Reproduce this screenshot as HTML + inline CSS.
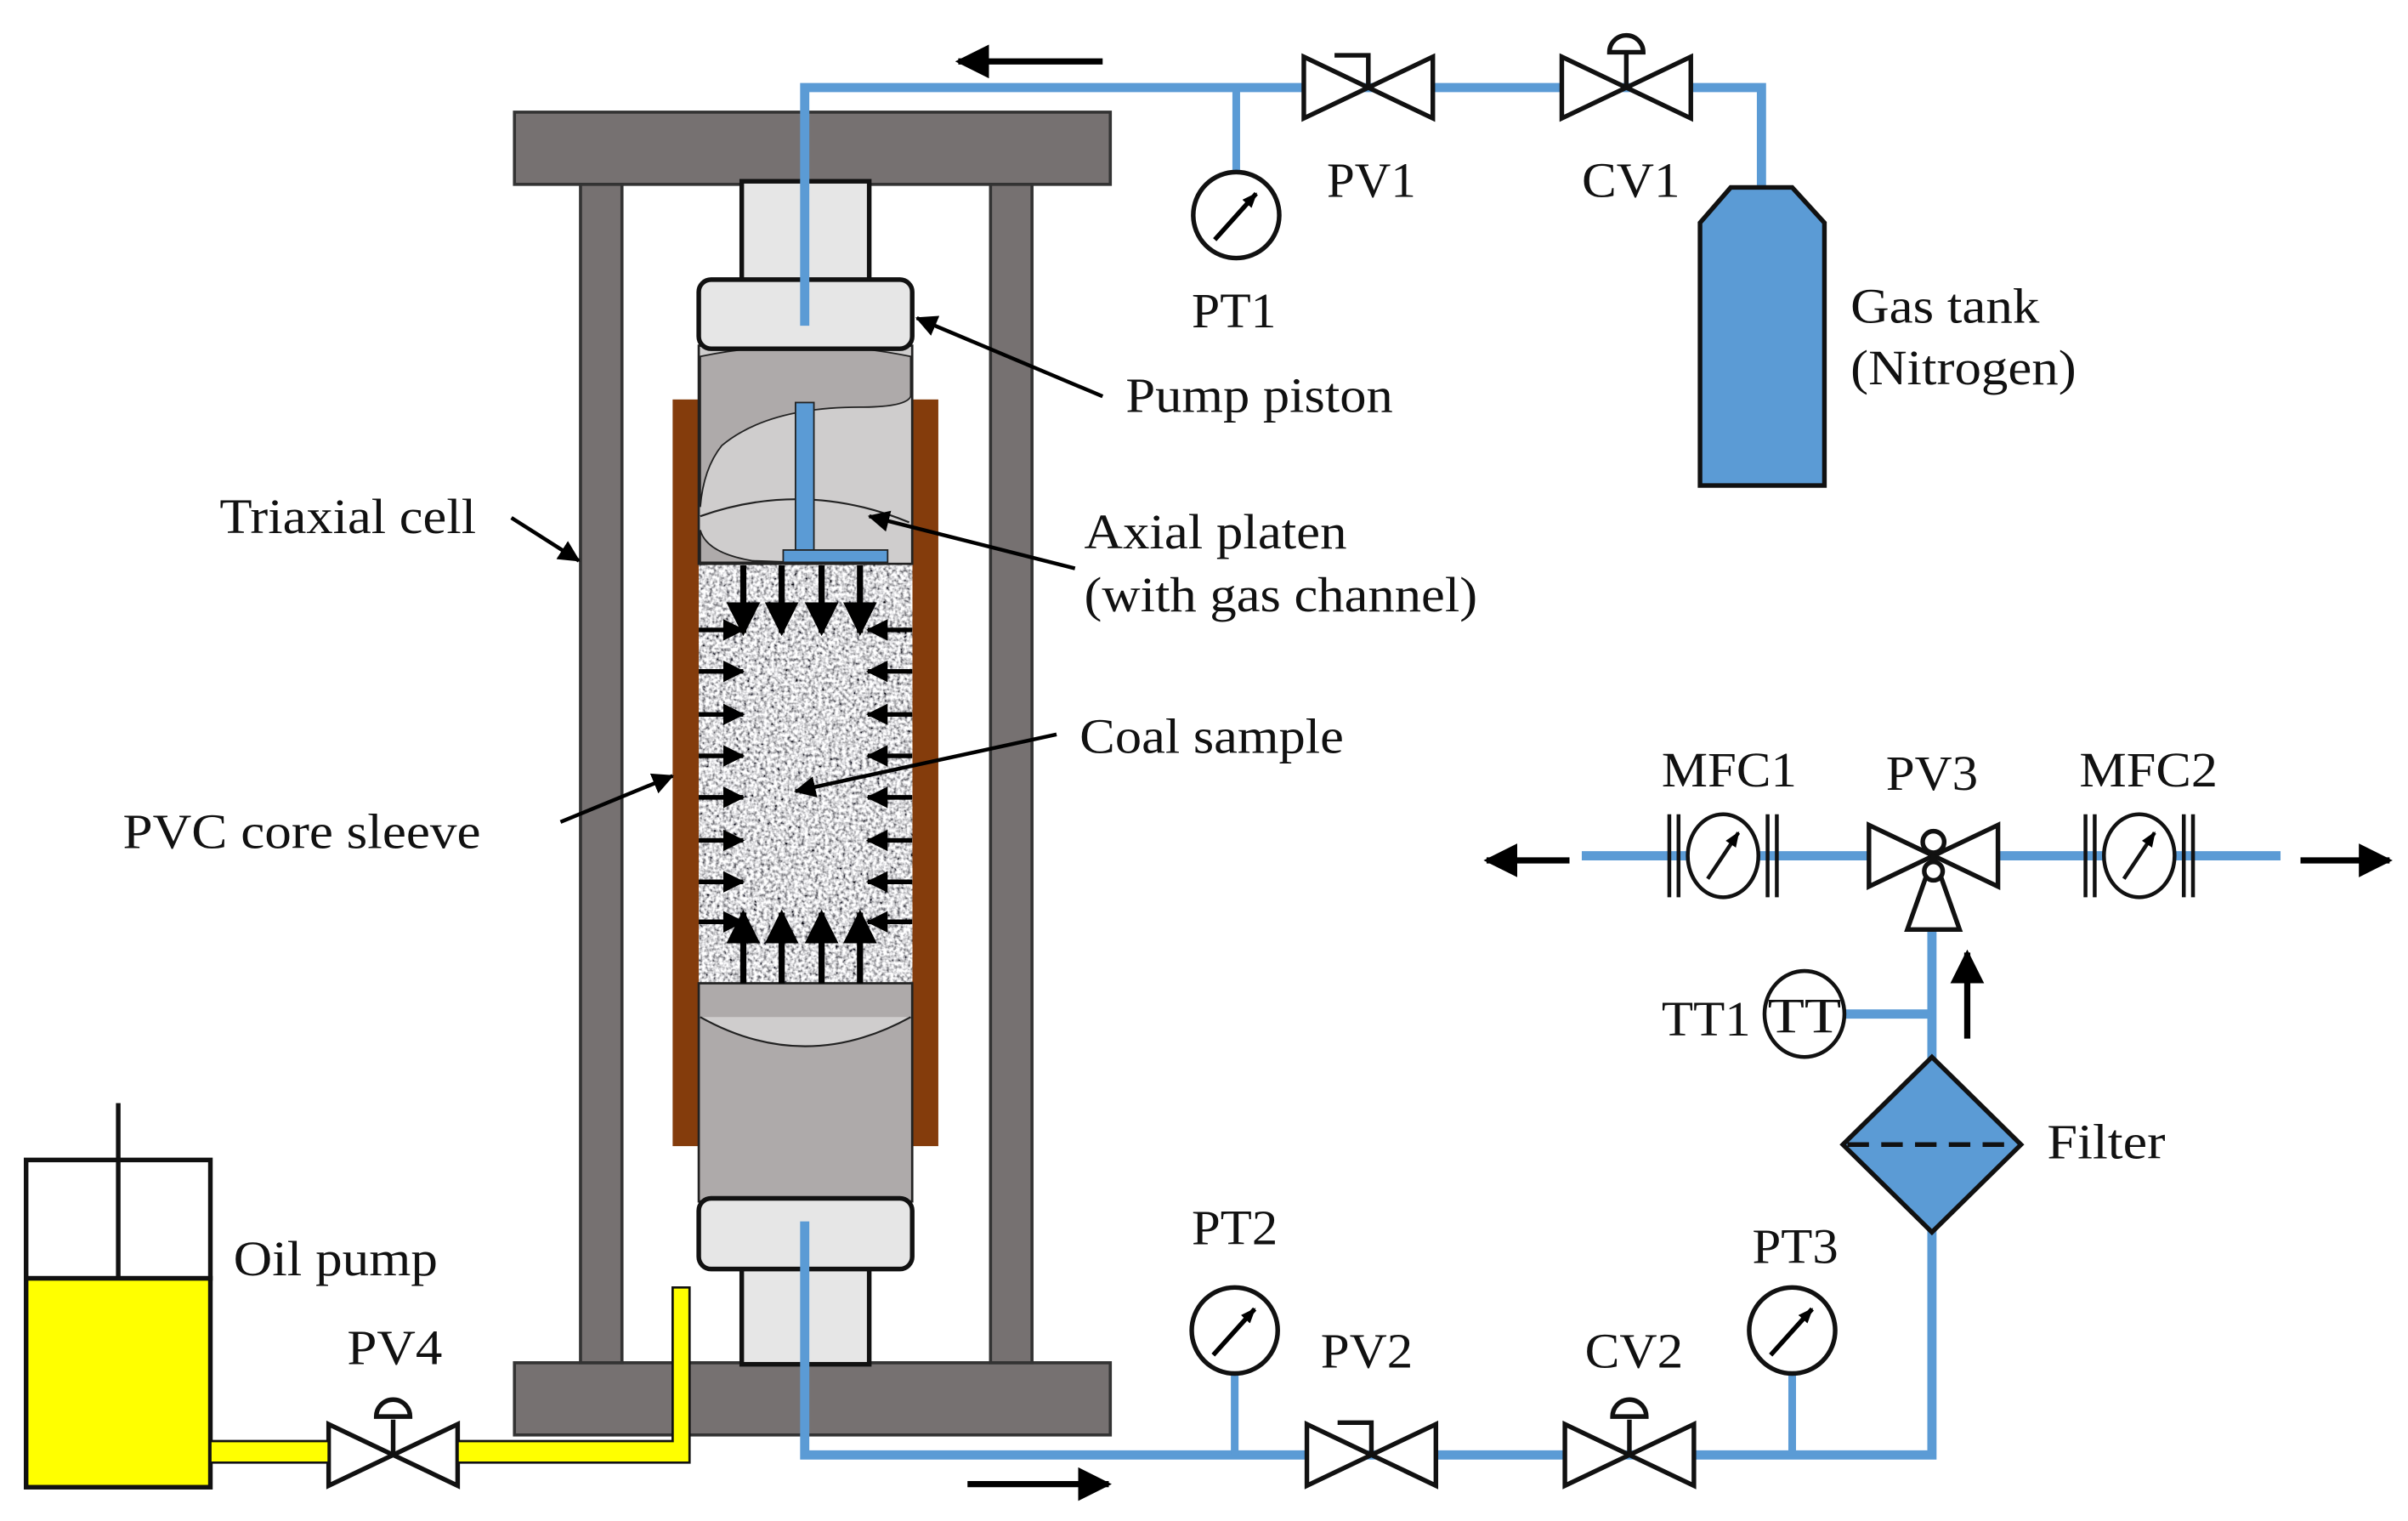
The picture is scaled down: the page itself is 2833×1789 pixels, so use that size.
<!DOCTYPE html>
<html><head><style>html,body{margin:0;padding:0;background:#fff}svg{display:block}text{font-family:"Liberation Serif",serif;font-size:32px;fill:#111}</style></head>
<body>
<svg width="2833" height="1789" viewBox="0 0 1568 990" preserveAspectRatio="none" xmlns="http://www.w3.org/2000/svg">
<defs>
<filter id="sp" x="0" y="0" width="1" height="1"><feTurbulence type="fractalNoise" baseFrequency="0.45" numOctaves="2" seed="3"/><feColorMatrix type="matrix" values="2.2 0 0 0 -0.4  2.2 0 0 0 -0.4  2.2 0 0 0 -0.38  0 0 0 0 1"/></filter>
<marker id="ah" markerWidth="10" markerHeight="8" refX="9" refY="4" orient="auto" markerUnits="userSpaceOnUse" viewBox="0 0 10 8"><path d="M0,0L10,4L0,8z" fill="#000"/></marker>
<marker id="bh" markerWidth="22" markerHeight="22" refX="20" refY="11" orient="auto" markerUnits="userSpaceOnUse" viewBox="0 0 22 22"><path d="M0,0L22,11L0,22z" fill="#000"/></marker>
<marker id="sh" markerWidth="14" markerHeight="14" refX="13" refY="7" orient="auto" markerUnits="userSpaceOnUse" viewBox="0 0 14 14"><path d="M0,0L14,7L0,14z" fill="#000"/></marker>
</defs>
<rect x="335" y="73" width="388" height="47" fill="#767171" stroke="#333" stroke-width="2"/>
<rect x="335" y="887" width="388" height="47" fill="#767171" stroke="#333" stroke-width="2"/>
<rect x="378" y="120" width="27" height="767" fill="#767171" stroke="#333" stroke-width="2"/>
<rect x="645" y="120" width="27" height="767" fill="#767171" stroke="#333" stroke-width="2"/>
<rect x="483" y="118" width="83" height="66" fill="#e6e6e6" stroke="#111" stroke-width="3"/>
<rect x="483" y="824" width="83" height="64" fill="#e6e6e6" stroke="#111" stroke-width="3"/>
<rect x="438" y="260" width="17" height="486" fill="#843c0c"/>
<rect x="594" y="260" width="17" height="486" fill="#843c0c"/>
<rect x="455" y="366" width="139" height="275" filter="url(#sp)"/>
<rect x="455" y="225" width="139" height="142" fill="#cfcdcd" stroke="#222" stroke-width="1.5"/>
<path d="M456,232 Q524,218 593,232 L593,258 Q590,265 560,265 Q500,265 470,290 Q458,305 456,330 Z" fill="#aeaaaa" stroke="#222" stroke-width="1"/>
<path d="M456,345 Q460,360 490,365 L520,366 L456,366 Z" fill="#aeaaaa" stroke="#222" stroke-width="1"/>
<path d="M456,336 Q524,312 592,340" fill="none" stroke="#222" stroke-width="1.2"/>
<rect x="455" y="182" width="139" height="45" rx="8" fill="#e6e6e6" stroke="#111" stroke-width="3"/>
<rect x="455" y="640" width="139" height="142" fill="#aeaaaa" stroke="#222" stroke-width="1.5"/>
<path d="M456,662 Q524,700 593,662" fill="#cfcdcd" stroke="#222" stroke-width="1.2"/>
<rect x="455" y="780" width="139" height="46" rx="8" fill="#e6e6e6" stroke="#111" stroke-width="3"/>
<rect x="518" y="262" width="12" height="98" fill="#5b9bd5" stroke="#222" stroke-width="1"/>
<rect x="510" y="358" width="68" height="8" fill="#5b9bd5" stroke="#222" stroke-width="1"/>
<g stroke="#000" stroke-width="4">
<line x1="484" y1="368" x2="484" y2="412" marker-end="url(#bh)"/><line x1="509" y1="368" x2="509" y2="412" marker-end="url(#bh)"/><line x1="535" y1="368" x2="535" y2="412" marker-end="url(#bh)"/><line x1="560" y1="368" x2="560" y2="412" marker-end="url(#bh)"/>
<line x1="484" y1="640" x2="484" y2="594" marker-end="url(#bh)"/><line x1="509" y1="640" x2="509" y2="594" marker-end="url(#bh)"/><line x1="535" y1="640" x2="535" y2="594" marker-end="url(#bh)"/><line x1="560" y1="640" x2="560" y2="594" marker-end="url(#bh)"/>
</g>
<g stroke="#000" stroke-width="3">
<line x1="455" y1="410" x2="484" y2="410" marker-end="url(#sh)"/><line x1="455" y1="437" x2="484" y2="437" marker-end="url(#sh)"/><line x1="455" y1="465" x2="484" y2="465" marker-end="url(#sh)"/><line x1="455" y1="492" x2="484" y2="492" marker-end="url(#sh)"/><line x1="455" y1="519" x2="484" y2="519" marker-end="url(#sh)"/><line x1="455" y1="547" x2="484" y2="547" marker-end="url(#sh)"/><line x1="455" y1="574" x2="484" y2="574" marker-end="url(#sh)"/><line x1="455" y1="600" x2="484" y2="600" marker-end="url(#sh)"/>
<line x1="594" y1="410" x2="565" y2="410" marker-end="url(#sh)"/><line x1="594" y1="437" x2="565" y2="437" marker-end="url(#sh)"/><line x1="594" y1="465" x2="565" y2="465" marker-end="url(#sh)"/><line x1="594" y1="492" x2="565" y2="492" marker-end="url(#sh)"/><line x1="594" y1="519" x2="565" y2="519" marker-end="url(#sh)"/><line x1="594" y1="547" x2="565" y2="547" marker-end="url(#sh)"/><line x1="594" y1="574" x2="565" y2="574" marker-end="url(#sh)"/><line x1="594" y1="600" x2="565" y2="600" marker-end="url(#sh)"/>
</g>
<g fill="none" stroke="#5b9bd5" stroke-width="6">
<polyline points="524,212 524,57 1147,57 1147,122"/>
<polyline points="524,795 524,947 1258,947 1258,800"/>
<polyline points="1258,690 1258,605"/>
<line x1="1030" y1="557" x2="1485" y2="557"/>
<line x1="1200" y1="660" x2="1258" y2="660"/>
</g>
<path d="M1127,122 L1167,122 L1188,145 L1188,316 L1107,316 L1107,145 Z" fill="#5b9bd5" stroke="#111" stroke-width="3"/>
<g fill="#fff" stroke="#111" stroke-width="3">
<path d="M849,37 L891,57 L849,77 Z M933,37 L891,57 L933,77 Z"/>
<path d="M1017,37 L1059,57 L1017,77 Z M1101,37 L1059,57 L1101,77 Z"/>
<path d="M851,927 L893,947 L851,967 Z M935,927 L893,947 L935,967 Z"/>
<path d="M1019,927 L1061,947 L1019,967 Z M1103,927 L1061,947 L1103,967 Z"/>
<path d="M214,927 L256,947 L214,967 Z M298,927 L256,947 L298,967 Z"/>
<path d="M1217,537 L1259,557 L1217,577 Z M1301,537 L1259,557 L1301,577 Z"/>
<path d="M1259,557 L1276,605 L1242,605 Z"/>
<circle cx="1259" cy="548" r="7"/>
<circle cx="1259" cy="567" r="6"/>
</g>
<g fill="none" stroke="#111" stroke-width="3">
<polyline points="891,57 891,36 869,36"/><polyline points="893,947 893,926 871,926"/>
<line x1="1059" y1="57" x2="1059" y2="34"/><line x1="1061" y1="947" x2="1061" y2="924"/><line x1="256" y1="947" x2="256" y2="924"/>
</g>
<g fill="#fff" stroke="#111" stroke-width="3">
<path d="M1048,34 A11,11 0 0 1 1070,34 Z"/>
<path d="M1050,922 A11,11 0 0 1 1072,922 Z"/>
<path d="M245,922 A11,11 0 0 1 267,922 Z"/>
</g>
<g stroke="#111" stroke-width="3" fill="#fff">
<line x1="805" y1="57" x2="805" y2="112" stroke="#5b9bd5" stroke-width="5"/>
<circle cx="805" cy="140" r="28"/>
<line x1="804" y1="947" x2="804" y2="894" stroke="#5b9bd5" stroke-width="5"/>
<circle cx="804" cy="866" r="28"/>
<line x1="1167" y1="947" x2="1167" y2="894" stroke="#5b9bd5" stroke-width="5"/>
<circle cx="1167" cy="866" r="28"/>
</g>
<g stroke="#000" stroke-width="3">
<line x1="791" y1="156" x2="818" y2="126" marker-end="url(#ah)"/>
<line x1="790" y1="882" x2="817" y2="852" marker-end="url(#ah)"/>
<line x1="1153" y1="882" x2="1180" y2="852" marker-end="url(#ah)"/>
</g>
<g fill="#fff" stroke="#111" stroke-width="2.5">
<ellipse cx="1122" cy="557" rx="23" ry="27"/><ellipse cx="1393" cy="557" rx="23" ry="27"/>
</g>
<g stroke="#111" stroke-width="2.5">
<line x1="1087" y1="530" x2="1087" y2="584"/><line x1="1093" y1="530" x2="1093" y2="584"/><line x1="1151" y1="530" x2="1151" y2="584"/><line x1="1157" y1="530" x2="1157" y2="584"/>
<line x1="1358" y1="530" x2="1358" y2="584"/><line x1="1364" y1="530" x2="1364" y2="584"/><line x1="1422" y1="530" x2="1422" y2="584"/><line x1="1428" y1="530" x2="1428" y2="584"/>
<line x1="1112" y1="572" x2="1132" y2="542" marker-end="url(#ah)"/>
<line x1="1383" y1="572" x2="1403" y2="542" marker-end="url(#ah)"/>
</g>
<ellipse cx="1175" cy="660" rx="26" ry="28" fill="#fff" stroke="#111" stroke-width="2.5"/>
<text x="1151" y="672" textLength="48" lengthAdjust="spacingAndGlyphs">TT</text>
<path d="M1258,688 L1316,745 L1258,802 L1200,745 Z" fill="#5b9bd5" stroke="#111" stroke-width="3"/>
<line x1="1203" y1="745" x2="1313" y2="745" stroke="#111" stroke-width="3" stroke-dasharray="14,8"/>
<g stroke="#000" stroke-width="4">
<line x1="718" y1="40" x2="624" y2="40" marker-end="url(#bh)"/>
<line x1="630" y1="966" x2="722" y2="966" marker-end="url(#bh)"/>
<line x1="1022" y1="560" x2="968" y2="560" marker-end="url(#bh)"/>
<line x1="1498" y1="560" x2="1556" y2="560" marker-end="url(#bh)"/>
<line x1="1281" y1="676" x2="1281" y2="620" marker-end="url(#bh)"/>
</g>
<rect x="17" y="832" width="120" height="136" fill="#ffff00" stroke="#111" stroke-width="3"/>
<rect x="17" y="755" width="120" height="77" fill="#fff" stroke="#111" stroke-width="3"/>
<line x1="77" y1="718" x2="77" y2="832" stroke="#111" stroke-width="3"/>
<path d="M137,938 L214,938 L214,952 L137,952 Z M298,938 L438,938 L438,838 L449,838 L449,952 L298,952 Z" fill="#ffff00" stroke="#111" stroke-width="1.5"/>
<g stroke="#000" stroke-width="2.5">
<line x1="718" y1="258" x2="597" y2="207" marker-end="url(#sh)"/>
<line x1="333" y1="337" x2="377" y2="365" marker-end="url(#sh)"/>
<line x1="700" y1="370" x2="566" y2="336" marker-end="url(#sh)"/>
<line x1="688" y1="478" x2="518" y2="515" marker-end="url(#sh)"/>
<line x1="365" y1="535" x2="438" y2="505" marker-end="url(#sh)"/>
</g>
<g>
<text x="776" y="213" textLength="55" lengthAdjust="spacingAndGlyphs">PT1</text>
<text x="864" y="128" textLength="58" lengthAdjust="spacingAndGlyphs">PV1</text>
<text x="1030" y="128" textLength="64" lengthAdjust="spacingAndGlyphs">CV1</text>
<text x="1205" y="210" textLength="123" lengthAdjust="spacingAndGlyphs">Gas tank</text>
<text x="1205" y="250" textLength="147" lengthAdjust="spacingAndGlyphs">(Nitrogen)</text>
<text x="733" y="268" textLength="174" lengthAdjust="spacingAndGlyphs">Pump piston</text>
<text x="143" y="347" textLength="167" lengthAdjust="spacingAndGlyphs">Triaxial cell</text>
<text x="706" y="357" textLength="171" lengthAdjust="spacingAndGlyphs">Axial platen</text>
<text x="706" y="398" textLength="256" lengthAdjust="spacingAndGlyphs">(with gas channel)</text>
<text x="703" y="490" textLength="172" lengthAdjust="spacingAndGlyphs">Coal sample</text>
<text x="80" y="552" textLength="233" lengthAdjust="spacingAndGlyphs">PVC core sleeve</text>
<text x="1082" y="512" textLength="88" lengthAdjust="spacingAndGlyphs">MFC1</text>
<text x="1228" y="514" textLength="60" lengthAdjust="spacingAndGlyphs">PV3</text>
<text x="1354" y="512" textLength="90" lengthAdjust="spacingAndGlyphs">MFC2</text>
<text x="1082" y="674" textLength="58" lengthAdjust="spacingAndGlyphs">TT1</text>
<text x="1333" y="754" textLength="77" lengthAdjust="spacingAndGlyphs">Filter</text>
<text x="776" y="810" textLength="56" lengthAdjust="spacingAndGlyphs">PT2</text>
<text x="1141" y="822" textLength="56" lengthAdjust="spacingAndGlyphs">PT3</text>
<text x="860" y="890" textLength="60" lengthAdjust="spacingAndGlyphs">PV2</text>
<text x="1032" y="890" textLength="64" lengthAdjust="spacingAndGlyphs">CV2</text>
<text x="152" y="830" textLength="133" lengthAdjust="spacingAndGlyphs">Oil pump</text>
<text x="226" y="888" textLength="62" lengthAdjust="spacingAndGlyphs">PV4</text>
</g>
</svg>
</body></html>
